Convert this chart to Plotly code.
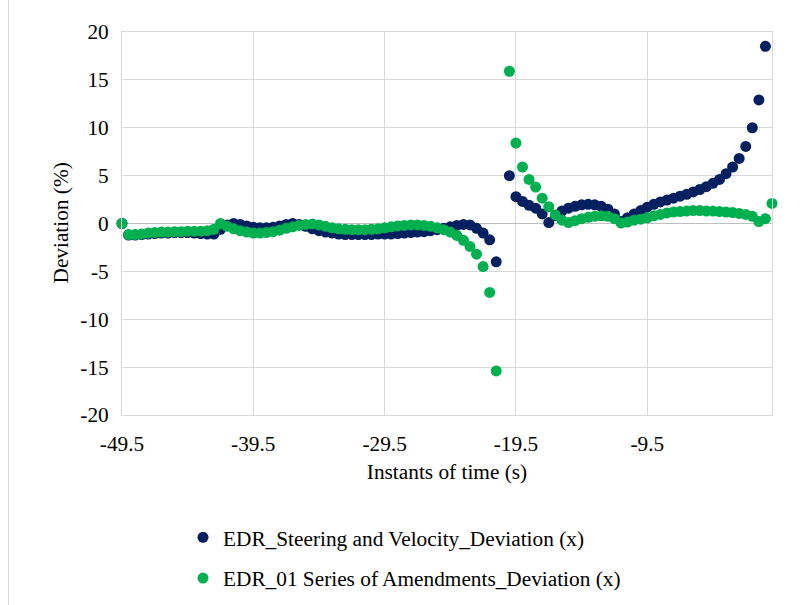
import plotly.graph_objects as go

# Time instants (s)
time_s = [-49.5, -49.0, -48.5, -48.0, -47.5, -47.0, -46.5, -46.0, -45.5, -45.0,
          -44.5, -44.0, -43.5, -43.0, -42.5, -42.0, -41.5, -41.0, -40.5, -40.0,
          -39.5, -39.0, -38.5, -38.0, -37.5, -37.0, -36.5, -36.0, -35.5, -35.0,
          -34.5, -34.0, -33.5, -33.0, -32.5, -32.0, -31.5, -31.0, -30.5, -30.0,
          -29.5, -29.0, -28.5, -28.0, -27.5, -27.0, -26.5, -26.0, -25.5, -25.0,
          -24.5, -24.0, -23.5, -23.0, -22.5, -22.0, -21.5, -21.0, -20.5, -20.0,
          -19.5, -19.0, -18.5, -18.0, -17.5, -17.0, -16.5, -16.0, -15.5, -15.0,
          -14.5, -14.0, -13.5, -13.0, -12.5, -12.0, -11.5, -11.0, -10.5, -10.0,
          -9.5, -9.0, -8.5, -8.0, -7.5, -7.0, -6.5, -6.0, -5.5, -5.0,
          -4.5, -4.0, -3.5, -3.0, -2.5, -2.0, -1.5, -1.0, -0.5, 0.0]

# EDR_Steering and Velocity_Deviation (x), %
steering_velocity_dev = [
    0.0, -1.2, -1.2, -1.15, -1.1, -1.05, -1.0, -1.0, -0.95, -0.95,
    -0.95, -1.0, -1.05, -1.1, -1.1, -0.6, -0.15, 0.0, -0.1, -0.25,
    -0.4, -0.45, -0.45, -0.4, -0.25, -0.1, 0.0, -0.1, -0.3, -0.55,
    -0.75, -0.9, -1.0, -1.1, -1.15, -1.15, -1.15, -1.15, -1.15, -1.1,
    -1.1, -1.1, -1.05, -1.0, -0.95, -0.9, -0.85, -0.75, -0.65, -0.5,
    -0.35, -0.2, -0.1, -0.15, -0.5, -1.0, -1.7, -4.0, None, 5.0,
    2.8, 2.3, 1.9, 1.6, 1.0, 0.1, 0.8, 1.3, 1.6, 1.8,
    1.95, 2.0, 1.95, 1.8, 1.5, 1.0, 0.2, 0.6, 1.0, 1.35,
    1.7, 2.0, 2.25, 2.45, 2.65, 2.85, 3.05, 3.3, 3.55, 3.85,
    4.2, 4.6, 5.2, 5.9, 6.8, 8.05, 10.0, 12.9, 18.5, None]

# EDR_01 Series of Amendments_Deviation (x), %
amendments_dev = [
    0.0, -1.15, -1.15, -1.1, -1.0, -0.95, -0.9, -0.9, -0.85, -0.85,
    -0.8, -0.8, -0.8, -0.75, -0.6, 0.0, -0.3, -0.55, -0.75, -0.9,
    -1.0, -1.0, -0.95, -0.85, -0.7, -0.5, -0.35, -0.2, -0.1, -0.05,
    -0.15, -0.3, -0.45, -0.55, -0.6, -0.65, -0.65, -0.65, -0.6, -0.55,
    -0.45, -0.35, -0.25, -0.2, -0.15, -0.15, -0.2, -0.3, -0.45, -0.65,
    -0.9, -1.25, -1.75, -2.4, -3.2, -4.5, -7.2, -15.4, None, 15.9,
    8.4, 5.9, 4.6, 3.8, 2.65, 1.75, 0.9, 0.35, 0.1, 0.3,
    0.5, 0.65, 0.75, 0.8, 0.75, 0.5, 0.05, 0.15, 0.35, 0.45,
    0.6, 0.8, 0.95, 1.1, 1.2, 1.25, 1.3, 1.35, 1.35, 1.3,
    1.3, 1.25, 1.2, 1.15, 1.05, 0.95, 0.75, 0.2, 0.5, 2.1]

x_tick_vals = [-49.5, -39.5, -29.5, -19.5, -9.5]
x_tick_text = ["-49.5", "-39.5", "-29.5", "-19.5", "-9.5"]
y_tick_vals = [-20, -15, -10, -5, 0, 5, 10, 15, 20]
y_tick_text = ["-20", "-15", "-10", "-5", "0", "5", "10", "15", "20"]

series_names = ["EDR_Steering and Velocity_Deviation (x)",
                "EDR_01 Series of Amendments_Deviation (x)"]
series_colors = ["#002060", "#00B050"]
x_title = "Instants of time (s)"
y_title = "Deviation (%)"

FONT = "Liberation Serif"
FS = 21.3

fig = go.Figure()
for name, vals, col, grp in zip(series_names,
                                [steering_velocity_dev, amendments_dev],
                                series_colors, ["a", "b"]):
    fig.add_trace(go.Scatter(
        x=time_s, y=vals, mode="markers", name=name, legendgroup=grp,
        marker=dict(color=col, size=11, line=dict(width=0)),
        cliponaxis=False,
    ))

grid = "#d9d9d9"
W, H = 803, 605
ML, MR, MT, MB = 122, 31, 32, 190
PW, PH = W - ML - MR, H - MT - MB
PB = MT + PH  # plot bottom in pixels


def px_x(px):
    return (px - ML) / PW


def px_y(py):
    return (PB - py) / PH


fig.update_layout(
    width=W, height=H,
    margin=dict(l=ML, r=MR, t=MT, b=MB, autoexpand=False),
    paper_bgcolor="white", plot_bgcolor="white",
    font=dict(family=FONT, size=FS, color="black"),
    showlegend=True,
    legend=dict(
        orientation="v",
        x=px_x(183), xanchor="left", y=px_y(517), yanchor="top",
        font=dict(family=FONT, size=FS, color="black"),
        tracegroupgap=10, bgcolor="rgba(0,0,0,0)",
    ),
    xaxis=dict(
        range=[-49.5, 0], tickmode="array", tickvals=x_tick_vals,
        ticktext=x_tick_text, showgrid=True, gridcolor=grid, gridwidth=1,
        zeroline=False, showline=True, linecolor=grid, linewidth=1, mirror=True,
        ticks="", ticklabelstandoff=9,
        tickfont=dict(family=FONT, size=FS, color="black"),
        title=dict(text=x_title, standoff=9,
                   font=dict(family=FONT, size=FS, color="black")),
        automargin=False,
    ),
    yaxis=dict(
        range=[-20, 20], tickmode="array", tickvals=y_tick_vals,
        ticktext=y_tick_text,
        showgrid=True, gridcolor=grid, gridwidth=1,
        zeroline=True, zerolinecolor="#bfbfbf", zerolinewidth=1,
        showline=True, linecolor=grid, linewidth=1, mirror=True,
        ticks="", ticklabelstandoff=8,
        tickfont=dict(family=FONT, size=FS, color="black"),
        automargin=False,
    ),
)

# y-axis title
fig.add_annotation(text=y_title, textangle=-90, xref="paper", yref="paper",
                   x=px_x(60), y=0.5, xanchor="center", yanchor="middle",
                   showarrow=False,
                   font=dict(family=FONT, size=FS, color="black"))

# chart-area border (left edge visible in the reference)
fig.add_shape(type="line", xref="paper", yref="paper",
              x0=px_x(8.5), x1=px_x(8.5), y0=-MB / PH, y1=(PH + MT) / PH,
              line=dict(color=grid, width=1))

fig.write_html("out.html", config={"displayModeBar": False},
               post_script="document.body.style.margin='0';document.body.style.padding='0';")
